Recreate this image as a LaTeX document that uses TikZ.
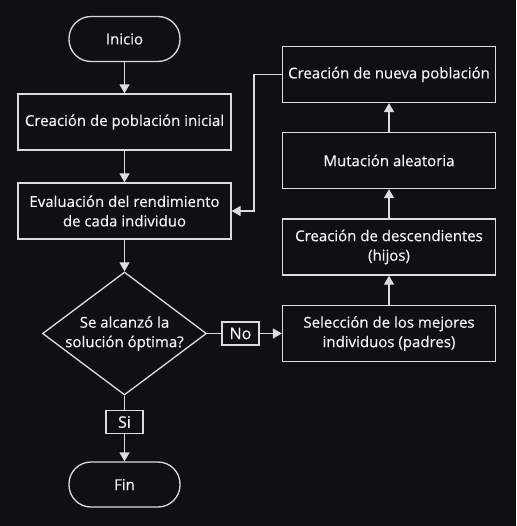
\documentclass[tikz,border=0pt]{standalone}
\usepackage{fontspec}
\setmainfont{Open Sans}[FakeBold=0.4]
\usetikzlibrary{arrows.meta,shapes.geometric}
\definecolor{bg}{RGB}{14,16,22}
\definecolor{ln}{RGB}{220,220,220}
\definecolor{tx}{RGB}{245,245,245}
\begin{document}
\begin{tikzpicture}[x=1pt,y=-1pt,
  every node/.style={font=\fontsize{15}{19.5}\selectfont, text=tx},
  box/.style={draw=ln, line width=1.3pt, fill=bg, minimum width=213pt, minimum height=56pt, align=center, inner sep=2pt},
  term/.style={draw=ln, line width=1.3pt, fill=bg, minimum width=111pt, minimum height=45pt, rounded corners=22pt},
  lbl/.style={draw=ln, line width=1.3pt, fill=bg, minimum width=37pt, minimum height=23pt, inner sep=1pt, font=\fontsize{16}{18}\selectfont},
  dia/.style={draw=ln, line width=1.3pt, fill=bg, diamond, minimum width=164pt, minimum height=123pt, inner sep=0pt},
  arr/.style={draw=ln, line width=1.3pt, -{Triangle[width=10pt,length=9pt]}},
  con/.style={draw=ln, line width=1.3pt}]
\fill[bg] (0,0) rectangle (516,526);
\useasboundingbox (0,0) rectangle (516,526);
\node[term] (inicio) at (124.5,39) {Inicio};
\node[box] (pob) at (124.5,122) {Creación de población inicial};
\node[box] (eval) at (124.5,211) {Evaluación del rendimiento\\de cada individuo};
\node[dia] (dec) at (124.5,333.5) {};
\node[align=center, inner sep=0pt] (dectext) at (124.5,333.5) {Se alcanzó la\\solución óptima?};
\node[lbl] (no) at (240.5,333.5) {No};
\node[lbl] (si) at (124.5,422) {Si};
\node[term] (fin) at (124.5,484.5) {Fin};
\node[box] (sel) at (389,333.5) {Selección de los mejores\\individuos (padres)};
\node[box] (desc) at (389,247) {Creación de descendientes\\(hijos)};
\node[box] (mut) at (389,160.5) {Mutación aleatoria};
\node[box] (nueva) at (389,74.5) {Creación de nueva población};
\draw[arr] (inicio) -- (pob);
\draw[arr] (pob) -- (eval);
\draw[arr] (eval) -- (dec);
\draw[con] (dec.east) -- (no.west);
\draw[arr] (no.east) -- (sel.west);
\draw[con] (dec.south) -- (si.north);
\draw[arr] (si.south) -- (fin.north);
\draw[arr] (sel) -- (desc);
\draw[arr] (desc) -- (mut);
\draw[arr] (mut) -- (nueva);
\draw[arr] (nueva.west) -- ++(-28,0) |- (eval.east);
\end{tikzpicture}
\end{document}
